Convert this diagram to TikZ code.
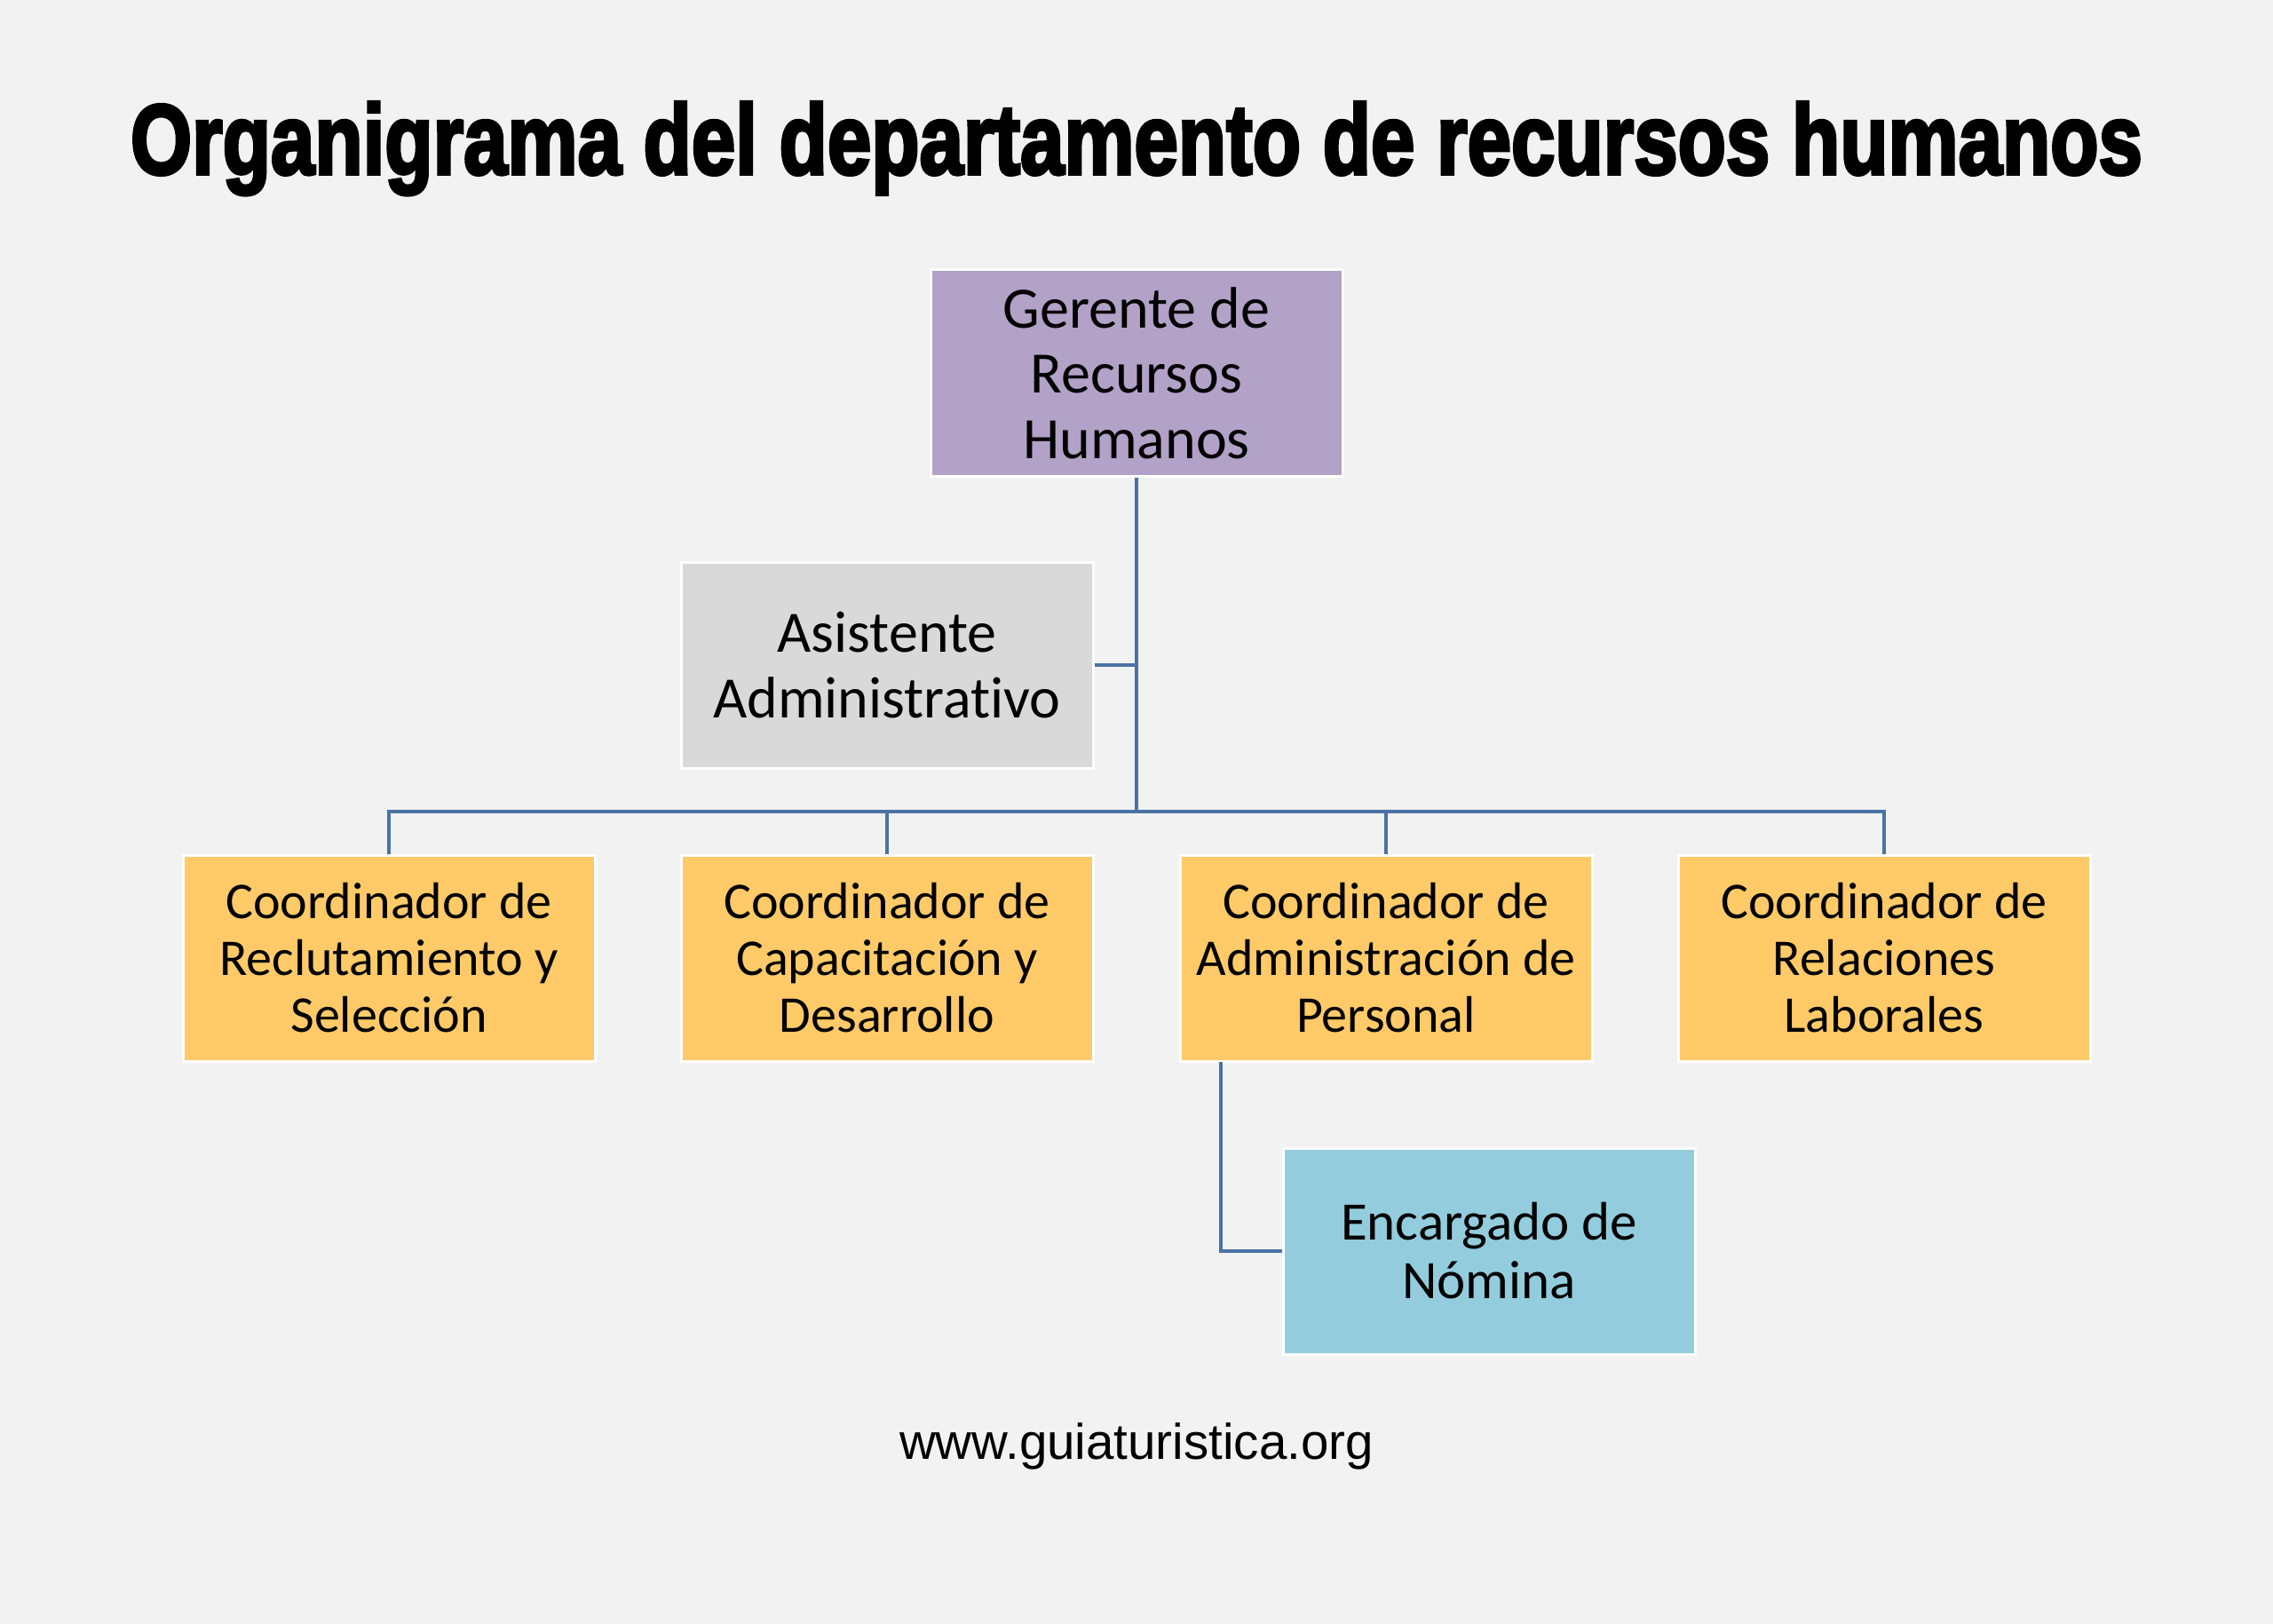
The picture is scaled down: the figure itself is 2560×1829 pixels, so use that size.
\documentclass[tikz,border=0pt]{standalone}
\usepackage{fontspec}
\usepackage{graphicx}
\setmainfont{Carlito}[Ligatures={NoCommon}]
\newfontfamily\titlefont{Liberation Sans}[UprightFont=* Bold, FakeBold=3.5]
\newfontfamily\urlfont{Liberation Sans}
\definecolor{bgcol}{HTML}{F2F2F2}
\definecolor{purplebox}{HTML}{B2A2C7}
\definecolor{graybox}{HTML}{D9D9D9}
\definecolor{orangebox}{HTML}{FFCA67}
\definecolor{bluebox}{HTML}{93CDDD}
\definecolor{linecol}{HTML}{4A73A4}
\tikzset{
  orgbox/.style={draw=white, line width=1.5pt, minimum width=232pt, minimum height=116pt,
    inner sep=2pt, align=center, text=black},
  bigtext/.style={font=\fontsize{33pt}{36.75pt}\selectfont},
  midtext/.style={font=\fontsize{30.5pt}{33pt}\selectfont},
  smalltext/.style={font=\fontsize{29pt}{32pt}\selectfont},
  conn/.style={draw=linecol, line width=1.6pt}
}
\begin{document}
\begin{tikzpicture}[x=0.5pt, y=-0.5pt]
\fill[bgcol] (0,0) rectangle (2560,1829);
\useasboundingbox (0,0) rectangle (2560,1829);

\node[anchor=base] (title) at (1280,196)
  {\resizebox{1133pt}{\height}{\titlefont\fontsize{56pt}{60pt}\selectfont Organigrama del departamento de recursos humanos}};

\node[orgbox, bigtext, fill=purplebox] (ger) at (1280,420) {Gerente de\\Recursos\\Humanos};
\node[orgbox, bigtext, fill=graybox] (asi) at (999,749) {Asistente\\Administrativo};

\node[orgbox, smalltext, fill=orangebox] (c1) at (438,1079) {Coordinador de\\Reclutamiento y\\Selección};
\node[orgbox, smalltext, fill=orangebox] (c2) at (999,1079) {Coordinador de\\Capacitación y\\Desarrollo};
\node[orgbox, smalltext, fill=orangebox] (c3) at (1561,1079) {Coordinador de\\Administración de\\Personal};
\node[orgbox, smalltext, fill=orangebox] (c4) at (2122,1079) {Coordinador de\\Relaciones\\Laborales};

\node[orgbox, midtext, fill=bluebox] (enc) at (1677,1409) {Encargado de\\Nómina};

\coordinate (bus) at (1280,914);
\coordinate (tap) at (1375,1196);

\draw[conn] (ger.south) -- (bus);
\draw[conn] (asi.east) -- (asi.east -| bus);
\draw[conn] (c1.north) -- (c1.north |- bus) -- (c4.north |- bus) -- (c4.north);
\draw[conn] (c2.north) -- (c2.north |- bus);
\draw[conn] (c3.north) -- (c3.north |- bus);
\draw[conn] (tap) |- (enc.west);

\node[anchor=base, font=\urlfont\fontsize{28.25pt}{32pt}\selectfont] (url) at (1280,1643) {www.guiaturistica.org};
\end{tikzpicture}
\end{document}
